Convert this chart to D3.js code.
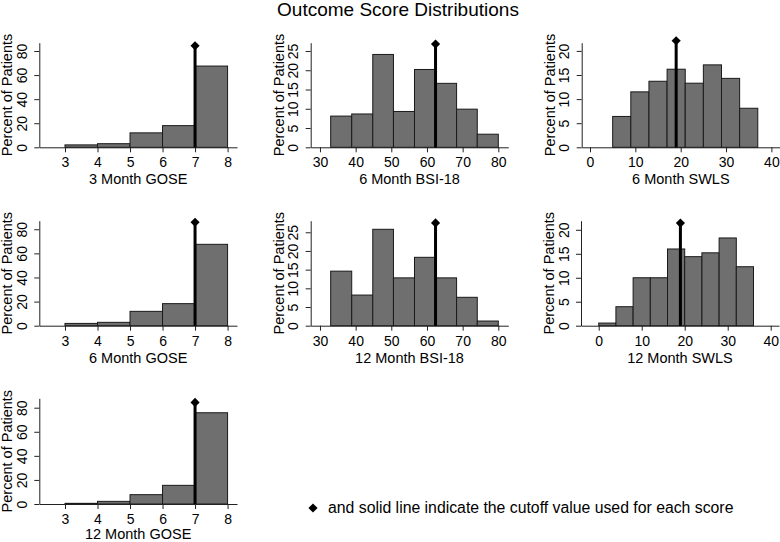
<!DOCTYPE html>
<html>
  <head>
    <meta charset="utf-8">
    <title>Outcome Score Distributions</title>
    <style media="screen">
      body {margin:0; background:#fff}
      text {font-family: "Liberation Sans", Arial, Helvetica, sans-serif; fill:#000}
      .bar {fill:#6f6f6f; stroke:#1a1a1a; stroke-width:1}
      .axis path, .axis line {stroke:#222; stroke-width:1}
    </style>
  </head>
  <body>
    <script src="https://cdn.jsdelivr.net/npm/d3@7"></script>
    <script type="text/javascript">

    // bin edges and percent of patients per bin
    const goseEdges = [3, 4, 5, 6, 7, 8]
    const gose3Pct = [2, 3, 12, 18, 67.5]
    const gose6Pct = [1.9, 2.8, 11.9, 18.3, 67.5]
    const gose12Pct = [0.55, 2.2, 7.75, 15.5, 75.8]

    const bsiEdges = [33, 38.9, 44.8, 50.6, 56.5, 62.4, 68.3, 74.1, 80]
    const bsi6Pct = [8.1, 8.65, 24.1, 9.3, 20.2, 16.6, 9.9, 3.4]
    const bsi12Pct = [14.6, 8.2, 25.8, 12.8, 18.3, 12.8, 7.6, 1.25]

    const swls6Edges = [5, 9, 13, 17, 21, 25, 29, 33, 37]
    const swls6Pct = [6.4, 11.5, 13.7, 16.2, 13.3, 17.1, 14.3, 8.1]
    const swls12Edges = [0, 4, 8, 12, 16, 20, 24, 28, 32, 36]
    const swls12Pct = [0.55, 3.96, 10, 10, 16, 14.4, 15.2, 18.3, 12.3]

    const cutoffs = {gose: 7, bsi: 62.4, swls: 19}

    const goseXTicks = [3, 4, 5, 6, 7, 8]
    const goseYTicks = [0, 20, 40, 60, 80]
    const bsiXTicks = [30, 40, 50, 60, 70, 80]
    const bsiYTicks = [0, 5, 10, 15, 20, 25]
    const swlsXTicks = [0, 10, 20, 30, 40]
    const swlsYTicks = [0, 5, 10, 15, 20]

    const titles = ['3 Month GOSE', '6 Month BSI-18', '6 Month SWLS',
                    '6 Month GOSE', '12 Month BSI-18', '12 Month SWLS',
                    '12 Month GOSE']
    const markerPct = [84.4, 26.8, 22.1, 85.8, 27.5, 21.4, 84.4]

    // panel layout: axis position in px and axis extents
    const panels = [
      {edges: goseEdges, pct: gose3Pct, cut: cutoffs.gose, xt: goseXTicks, yt: goseYTicks,
       x0: 39.3, x1: 237, xd: [2.21, 8.29], yb: 147.3, ytop: 42.7, ymax: 86.9},
      {edges: bsiEdges, pct: bsi6Pct, cut: cutoffs.bsi, xt: bsiXTicks, yt: bsiYTicks,
       x0: 310.7, x1: 508.3, xd: [27.4, 82.8], yb: 147.3, ytop: 42.7, ymax: 27.15},
      {edges: swls6Edges, pct: swls6Pct, cut: cutoffs.swls, xt: swlsXTicks, yt: swlsYTicks,
       x0: 581.7, x1: 780, xd: [-1.83, 41.9], yb: 147.3, ytop: 42.7, ymax: 21.7},
      {edges: goseEdges, pct: gose6Pct, cut: cutoffs.gose, xt: goseXTicks, yt: goseYTicks,
       x0: 39.3, x1: 237, xd: [2.21, 8.29], yb: 325.7, ytop: 220.7, ymax: 87.1},
      {edges: bsiEdges, pct: bsi12Pct, cut: cutoffs.bsi, xt: bsiXTicks, yt: bsiYTicks,
       x0: 310.7, x1: 508.3, xd: [27.4, 82.8], yb: 325.7, ytop: 220.7, ymax: 28.1},
      {edges: swls12Edges, pct: swls12Pct, cut: cutoffs.swls, xt: swlsXTicks, yt: swlsYTicks,
       x0: 581, x1: 779, xd: [-4.12, 41.93], yb: 325.7, ytop: 220.7, ymax: 21.9},
      {edges: goseEdges, pct: gose12Pct, cut: cutoffs.gose, xt: goseXTicks, yt: goseYTicks,
       x0: 39.3, x1: 237, xd: [2.21, 8.29], yb: 504, ytop: 398.3, ymax: 87.8}
    ]

    const w = 780, h = 542

    const svg = d3.select('body').append('svg')
      .attr('width', w)
      .attr('height', h)

    svg.append('text')
      .attr('x', 398)
      .attr('y', 16)
      .attr('text-anchor', 'middle')
      .style('font-size', '19px')
      .text('Outcome Score Distributions')

    const diamond = d3.symbol(d3.symbolSquare, 42)

    panels.forEach((p, i) => {
      const x = d3.scaleLinear().domain(p.xd).range([p.x0, p.x1])
      const y = d3.scaleLinear().domain([0, p.ymax]).range([p.yb, p.ytop])
      const g = svg.append('g')

      const bins = p.pct.map((v, j) => ({lo: p.edges[j], hi: p.edges[j + 1], v}))

      g.selectAll('rect').data(bins).join('rect')
        .attr('class', 'bar')
        .attr('x', d => x(d.lo))
        .attr('width', d => x(d.hi) - x(d.lo))
        .attr('y', d => y(d.v))
        .attr('height', d => y(0) - y(d.v))

      const xa = g.append('g')
        .attr('class', 'axis')
        .attr('transform', `translate(0,${p.yb})`)
        .call(d3.axisBottom(x).tickValues(p.xt).tickSize(5).tickSizeOuter(0).tickFormat(d3.format('d')))
      xa.selectAll('text')
        .attr('y', 20).attr('dy', 0)
        .style('font-size', '14px')

      const ya = g.append('g')
        .attr('class', 'axis')
        .attr('transform', `translate(${p.x0},0)`)
        .call(d3.axisLeft(y).tickValues(p.yt).tickSize(5).tickSizeOuter(0).tickFormat(d3.format('d')))
      ya.selectAll('text')
        .attr('transform', 'rotate(-90)')
        .attr('text-anchor', 'middle')
        .attr('x', 0).attr('y', -12.5).attr('dy', 0)
        .style('font-size', '14px')
      g.selectAll('.domain').attr('fill', 'none')

      g.append('text')
        .attr('transform', `translate(${p.x0 - 27},${(p.yb + p.ytop) / 2}) rotate(-90)`)
        .attr('text-anchor', 'middle')
        .style('font-size', '14.5px')
        .text('Percent of Patients')

      g.append('text')
        .attr('x', (p.x0 + p.x1) / 2)
        .attr('y', Math.min(p.yb + 37, h - 3))
        .attr('text-anchor', 'middle')
        .style('font-size', '14.5px')
        .text(titles[i])

      // cutoff marker
      g.append('line')
        .attr('x1', x(p.cut)).attr('x2', x(p.cut))
        .attr('y1', y(0)).attr('y2', y(markerPct[i]))
        .attr('stroke', '#000')
        .attr('stroke-width', 3)
      g.append('path')
        .attr('d', diamond)
        .attr('transform', `translate(${x(p.cut)},${y(markerPct[i])}) rotate(45)`)
        .attr('fill', '#000')
    })

    // note
    svg.append('path')
      .attr('d', diamond)
      .attr('transform', 'translate(313,508) rotate(45)')
      .attr('fill', '#000')
    svg.append('text')
      .attr('x', 328)
      .attr('y', 513)
      .style('font-size', '15.8px')
      .text('and solid line indicate the cutoff value used for each score')

    </script>
  </body>
</html>
